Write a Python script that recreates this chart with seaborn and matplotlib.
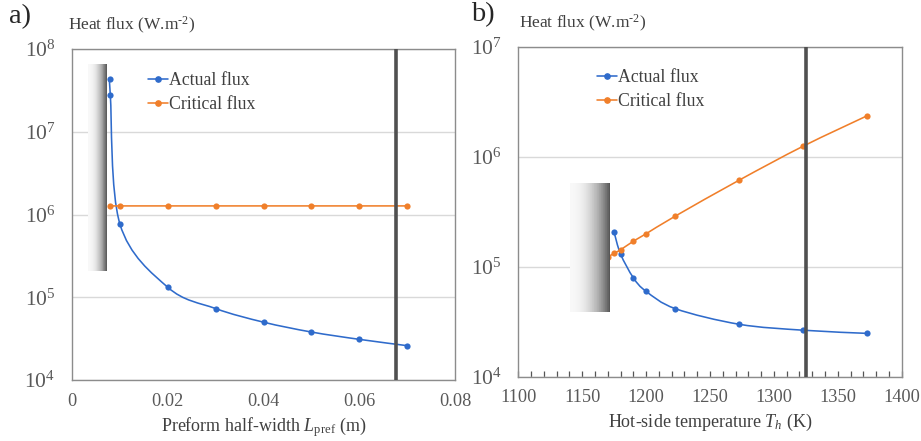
import numpy as np
import matplotlib
matplotlib.use("Agg")
import matplotlib.pyplot as plt
import seaborn as sns
from matplotlib.path import Path
from matplotlib.patches import PathPatch
from matplotlib.lines import Line2D
from matplotlib.ticker import FixedLocator, MultipleLocator, NullLocator

# ---- panel a: flux vs preform half-width ----
half_width_actual = [0.0079, 0.0080, 0.010, 0.020, 0.030, 0.040, 0.050, 0.060, 0.070]
flux_actual_a = [4.4e7, 2.8e7, 7.7e5, 1.32e5, 7.3e4, 5.0e4, 3.8e4, 3.1e4, 2.6e4]
half_width_crit = [0.008, 0.010, 0.020, 0.030, 0.040, 0.050, 0.060, 0.070]
flux_crit_a = [1.27e6, 1.27e6, 1.27e6, 1.27e6, 1.27e6, 1.27e6, 1.27e6, 1.27e6]
limit_a = 0.0677
shade_a_x = [0.0034, 0.0073]
shade_a_y = [2.07e5, 6.6e7]

# ---- panel b: flux vs hot-side temperature ----
temp_actual = [1175, 1180, 1190, 1200, 1223, 1273, 1323, 1373]
flux_actual_b = [2.06e5, 1.31e5, 7.98e4, 6.0e4, 4.17e4, 3.01e4, 2.66e4, 2.49e4]
temp_crit = [1170, 1175, 1180, 1190, 1200, 1223, 1273, 1323, 1373]
flux_crit_b = [1.23e5, 1.33e5, 1.43e5, 1.71e5, 2.0e5, 2.9e5, 6.15e5, 1.25e6, 2.36e6]
limit_b = 1325
shade_b_x = [1140.5, 1171.8]
shade_b_y = [3.87e4, 5.74e5]

series_labels = ["Actual flux", "Critical flux"]
blue = "#2F6BCB"
orange = "#F07F2A"
text_grey = "#595959"
frame_grey = "#8C8C8C"

sns.set_theme(style="white")
plt.rcParams["font.family"] = ["Liberation Serif", "DejaVu Serif"]
plt.rcParams["mathtext.fontset"] = "custom"
plt.rcParams["mathtext.rm"] = "Liberation Serif"
plt.rcParams["mathtext.it"] = "Liberation Serif:italic"
plt.rcParams["mathtext.default"] = "regular"

fig = plt.figure(figsize=(9.21, 4.41), dpi=100)
ax_a = fig.add_axes([72 / 921, 1 - 380 / 441, 383 / 921, 331 / 441])
ax_b = fig.add_axes([518.3 / 921, 1 - 377 / 441, 383.4 / 921, 330.3 / 441])


def smooth_curve(x, y):
    """Smoothed (Catmull-Rom style Bezier) path through points on a log-y axis."""
    pts = np.column_stack([np.asarray(x, float), np.log10(y)])
    n = len(pts)
    verts = [pts[0]]
    codes = [Path.MOVETO]
    for i in range(n - 1):
        p0 = pts[i - 1] if i > 0 else pts[i]
        p1, p2 = pts[i], pts[i + 1]
        p3 = pts[i + 2] if i + 2 < n else pts[i + 1]
        verts += [p1 + (p2 - p0) / 6, p2 - (p3 - p1) / 6, p2]
        codes += [Path.CURVE4] * 3
    verts = np.array(verts)
    verts[:, 1] = 10 ** verts[:, 1]
    return Path(verts, codes)


def draw_series(ax, x, y, color):
    ax.add_patch(PathPatch(smooth_curve(x, y), facecolor="none", edgecolor=color,
                           lw=1.15, zorder=3))
    sns.scatterplot(x=x, y=y, ax=ax, color=color, s=20, linewidth=0, zorder=4,
                    legend=False)


def draw_shade(ax, xs, ys):
    edges_x = np.linspace(xs[0], xs[1], 60)
    t = np.linspace(0, 1, 59)
    vals = 0.97 - 0.63 * t ** 2.2
    ax.pcolormesh(edges_x, ys, vals[None, :], cmap="gray", vmin=0, vmax=1,
                  shading="flat", zorder=5)


def style_axes(ax, xlim, ylim, decades):
    ax.set_yscale("log")
    ax.set_xlim(*xlim)
    ax.set_ylim(*ylim)
    ax.yaxis.set_major_locator(FixedLocator([10.0 ** d for d in decades]))
    ax.yaxis.set_minor_locator(NullLocator())
    ax.set_yticklabels([r"$\mathdefault{10^{%d}}$" % d for d in decades])
    ax.grid(axis="y", color="#D9D9D9", lw=1.0, zorder=0)
    ax.grid(axis="x", visible=False)
    for sp in ax.spines.values():
        sp.set_color(frame_grey)
        sp.set_linewidth(1.0)
    ax.tick_params(axis="y", length=0, pad=12, labelsize=15.5, labelcolor=text_grey)
    ax.tick_params(axis="x", labelsize=13.2, labelcolor=text_grey)
    ax.set_ylabel("")


def add_legend(ax, anchor):
    handles = [Line2D([], [], color=blue, lw=1.15, marker="o", markersize=3.8),
               Line2D([], [], color=orange, lw=1.15, marker="o", markersize=3.8)]
    leg = ax.legend(handles, series_labels, loc="upper left", bbox_to_anchor=anchor,
                    frameon=False, fontsize=12.8, handlelength=1.15,
                    handletextpad=0.05, labelspacing=0.38, borderpad=0,
                    borderaxespad=0)
    for txt in leg.get_texts():
        txt.set_color("#404040")
    leg.set_zorder(6)


# panel a
style_axes(ax_a, (0, 0.08), (1e4, 1e8), [4, 5, 6, 7, 8])
ax_a.xaxis.set_major_locator(FixedLocator([0, 0.02, 0.04, 0.06, 0.08]))
ax_a.set_xticklabels(["0", "0.02", "0.04", "0.06", "0.08"])
ax_a.tick_params(axis="x", length=0, pad=9)
draw_series(ax_a, half_width_actual, flux_actual_a, blue)
draw_series(ax_a, half_width_crit, flux_crit_a, orange)
draw_shade(ax_a, shade_a_x, shade_a_y)
ax_a.axvline(limit_a, color="#505050", lw=2.6, zorder=6)
ax_a.set_xlabel(r"Preform half-width $\mathit{L}_{\mathrm{pref}}$ (m)",
                fontsize=13, color="#404040", labelpad=4)
add_legend(ax_a, (0.198, 0.93))

# panel b
style_axes(ax_b, (1100, 1400), (1e4, 1e7), [4, 5, 6, 7])
ax_b.xaxis.set_major_locator(MultipleLocator(50))
ax_b.xaxis.set_minor_locator(MultipleLocator(10))
ax_b.tick_params(axis="x", which="both", direction="in", length=4, width=0.9,
                 color="#555555", pad=9, bottom=True)
draw_series(ax_b, temp_actual, flux_actual_b, blue)
draw_series(ax_b, temp_crit, flux_crit_b, orange)
draw_shade(ax_b, shade_b_x, shade_b_y)
ax_b.axvline(limit_b, color="#505050", lw=2.6, zorder=6)
ax_b.set_xlabel(r"Hot-side temperature $\mathit{T_h}$ (K)",
                fontsize=13, color="#404040", labelpad=4)
add_legend(ax_b, (0.2045, 0.932))

# panel tags and axis titles
flux_title = "Heat flux (W.m$^{\u2010\\mathdefault{2}}$)"
fig.text(9 / 921, 1 - 17 / 441, "a)", fontsize=20.5, color="#262626", va="center")
fig.text(471 / 921, 1 - 15 / 441, "b)", fontsize=20.5, color="#262626", va="center")
fig.text(68 / 921, 1 - 25 / 441, flux_title,
         fontsize=12.5, color="#404040", va="center")
fig.text(519 / 921, 1 - 23 / 441, flux_title,
         fontsize=12.5, color="#404040", va="center")

fig.savefig("out.png", dpi=100)
